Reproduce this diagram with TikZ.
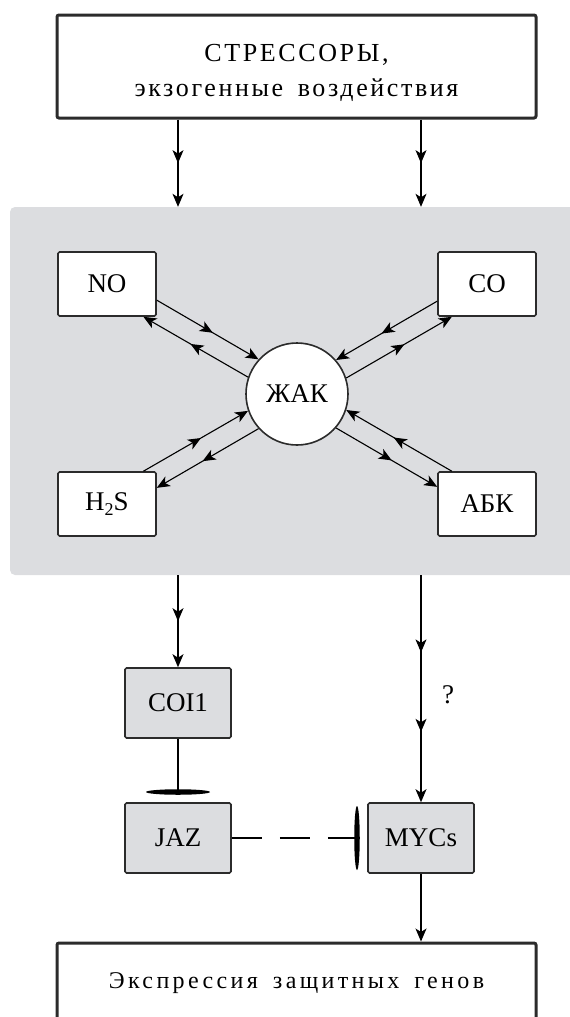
\documentclass[tikz,border=0pt]{standalone}
\usepackage{fontspec}
\setmainfont{Liberation Serif}
\newfontfamily\spacedfont[LetterSpace=10,WordSpace=1.6]{Liberation Serif}
\newfontfamily\widefont[LetterSpace=14,WordSpace=1.6]{Liberation Serif}
\usetikzlibrary{arrows.meta,decorations.markings,shapes.geometric,positioning}
\definecolor{panelgrey}{HTML}{DCDDE0}
\definecolor{inkgrey}{HTML}{2B2B2B}
\newcommand{\subtwo}{\raisebox{-0.35ex}{\fontsize{18}{20}\selectfont 2}}
\tikzset{
  bigbox/.style={draw=inkgrey,line width=3pt,rounded corners=2pt,minimum width=479pt,align=center,fill=white,inner sep=0pt},
  gasbox/.style={draw=inkgrey,line width=1.6pt,rounded corners=1.5pt,minimum width=98pt,minimum height=64pt,fill=white,inner sep=0pt},
  genebox/.style={gasbox,fill=panelgrey,minimum width=106pt,minimum height=70pt},
  hub/.style={circle,draw=inkgrey,line width=1.6pt,fill=white,minimum size=102pt,inner sep=0pt},
  blocker/.style={ellipse,fill=black,inner sep=0pt},
  midflow/.style={postaction={decorate},decoration={markings,mark=at position #1 with {\arrow{>}}}},
  midflow/.default=0.5,
  twoflow/.style={postaction={decorate},decoration={markings,mark=at position 0.34 with {\arrow{>}},mark=at position 0.69 with {\arrow{>}}}},
}
\begin{document}
\begin{tikzpicture}[x=1pt,y=-1pt,font=\fontsize{27}{30}\selectfont,>={Stealth[length=13pt,width=11pt,inset=3.5pt]}]
\useasboundingbox (0,0) rectangle (570,1017);
\clip (0,0) rectangle (570,1017);
% grey panel
\node[fill=panelgrey,rounded corners=5pt,minimum width=570pt,minimum height=368pt,inner sep=0pt] (panel) at (295,391) {};
% top and bottom boxes
\node[bigbox,minimum height=103pt,font=\spacedfont\fontsize{26}{35}\selectfont] (stress) at (296.5,66.5) {\rule{0pt}{30pt}СТРЕССОРЫ,\\экзогенные воздействия};
\node[bigbox,minimum height=80pt,font=\widefont\fontsize{24}{28}\selectfont] (genes) at (296.5,983) {Экспрессия защитных генов};
% signalling molecules
\node[hub] (JAK) at (297,394) {ЖАК};
\node[gasbox] (NO) at (107,284) {NO};
\node[gasbox] (CO) at (487,284) {CO};
\node[gasbox] (H2S) at (107,504) {H\subtwo S};
\node[gasbox] (ABK) at (487,504) {АБК};
% jasmonate pathway
\node[genebox] (COI1) at (178,703) {COI1};
\node[genebox] (JAZ) at (178,838) {JAZ};
\node[genebox] (MYCs) at (421,838) {MYCs};
\node[blocker,minimum width=64pt,minimum height=5.5pt] (barA) at (178,792) {};
\node[blocker,minimum width=5.5pt,minimum height=64pt] (barB) at (357,838) {};
\node (query) at (448,695) {?};
\path[->,line width=1.1pt]
(stress.south -| COI1) edge[midflow] (panel.north -| COI1)
(stress.south -| MYCs) edge[midflow] (panel.north -| MYCs)
(NO.-18.9) edge[midflow=0.55] (JAK.138.6)
(JAK.161.2) edge[midflow=0.55] (NO.-42.2)
(CO.-161.1) edge[midflow=0.55] (JAK.41.4)
(JAK.18.8) edge[midflow=0.55] (CO.-137.8)
(H2S.42.2) edge[midflow=0.55] (JAK.-161.2)
(JAK.-138.6) edge[midflow=0.55] (H2S.18.9)
(ABK.137.8) edge[midflow=0.55] (JAK.-18.8)
(JAK.-41.4) edge[midflow=0.55] (ABK.161.1)
(panel.south -| COI1) edge[midflow] (COI1)
(panel.south -| MYCs) edge[twoflow] (MYCs)
(MYCs) edge (genes.north -| MYCs);
\draw[line width=1.3pt] (COI1) -- (barA.center);
\draw[line width=1.3pt,dash pattern=on 30pt off 18pt] (JAZ) -- (barB.center);
\end{tikzpicture}
\end{document}
